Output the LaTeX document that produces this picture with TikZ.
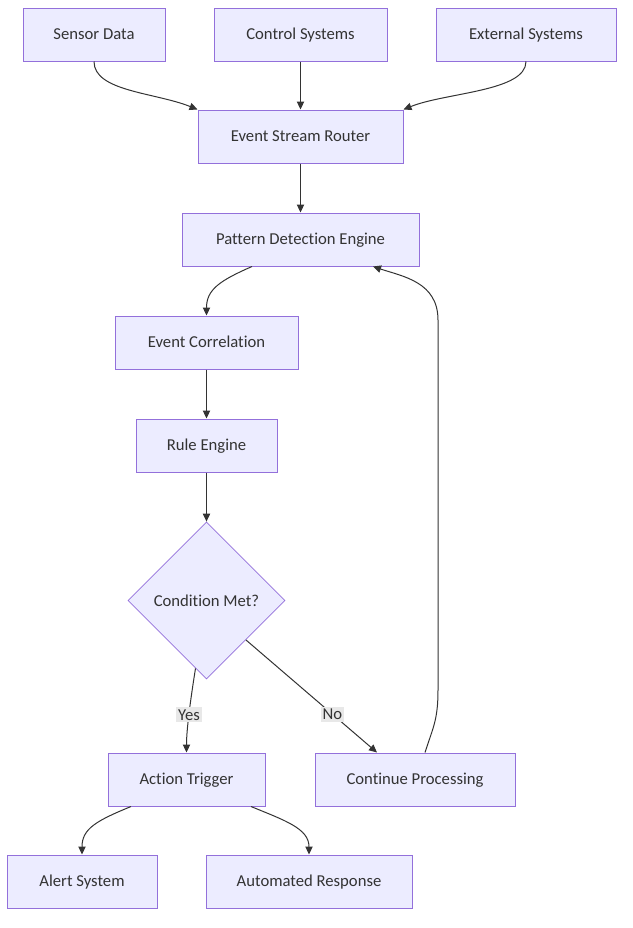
\documentclass[tikz,border=0pt]{standalone}
\usepackage{fontspec}
\setmainfont[Ligatures={NoCommon}]{Carlito}
\usepackage{xcolor}
\usetikzlibrary{arrows.meta,calc,shapes.geometric}
\definecolor{NodeFill}{HTML}{ECECFF}
\definecolor{NodeLine}{HTML}{9370DB}
\definecolor{InkGray}{HTML}{333333}
\definecolor{TagGray}{HTML}{E8E8E8}

\begin{document}
\begin{tikzpicture}[
      x=0.75pt,y=-0.75pt,
      font=\fontsize{12.5}{14}\selectfont,
      text=InkGray,
      proc/.style={draw=NodeLine,fill=NodeFill,line width=0.75pt,minimum height=39.75pt,inner sep=0pt,text depth=1pt,align=center},
      decide/.style={diamond,draw=NodeLine,fill=NodeFill,line width=0.6pt,minimum width=117.75pt,minimum height=117.75pt,inner sep=0pt,align=center},
      lbl/.style={fill=TagGray,inner sep=1.5pt,text=InkGray},
      flow/.style={draw=InkGray,line width=0.75pt,-{Triangle[length=6pt,width=5.5pt]}}
    ]
      \useasboundingbox (0,0) rectangle (632,928);
      % sources
      \node[proc,minimum width=106.5pt] (sd) at (94,34.5) {Sensor Data};
      \node[proc,minimum width=129.75pt] (cs) at (300.5,34.5) {Control Systems};
      \node[proc,minimum width=135pt] (xs) at (526,34.5) {External Systems};
      % main pipeline
      \node[proc,minimum width=153.75pt] (esr) at (300.5,136.5) {Event Stream Router};
      \node[proc,minimum width=177.75pt] (pde) at (300.5,239.5) {Pattern Detection Engine};
      \node[proc,minimum width=137.25pt] (ec) at (206.5,342.5) {Event Correlation};
      \node[proc,minimum width=105.75pt] (re) at (206.5,445.5) {Rule Engine};
      \node[decide] (cm) at (206.5,600.5) {Condition Met?};
      \node[proc,minimum width=117.75pt] (at) at (186.5,779.5) {Action Trigger};
      \node[proc,minimum width=150pt] (cp) at (415,779.5) {Continue Processing};
      % outputs
      \node[proc,minimum width=112.5pt] (as) at (82,881.5) {Alert System};
      \node[proc,minimum width=154.5pt] (ar) at (309,881.5) {Automated Response};

      \draw[flow] (sd.south) .. controls +(0,30) and +(-42,-17) .. (esr.north west);
      \draw[flow] (cs) -- (esr);
      \draw[flow] (xs.south) .. controls +(0,30) and +(42,-17) .. (esr.north east);
      \draw[flow] (esr) -- (pde);
      \draw[flow] ($(pde.south)+(-48.5,0)$) .. controls +(-32,14) and +(0,-26) .. (ec.north);
      \draw[flow] (ec) -- (re);
      \draw[flow] (re) -- (cm);
      \draw[flow] ($(cm.south)+(-11,-11)$) .. controls +(-4,25) and +(0,-25) .. node[lbl,pos=0.55] {Yes} (at.north);
      \draw[flow] ($(cm.east)!0.5!(cm.south)$) -- node[lbl,pos=0.66] {No} ($(cp.north)+(-38,0)$);
      \draw[flow] ($(cp.north)+(10,0)$) .. controls +(8,-25) and +(0,30) .. (438,690)
        -- (438,320) .. controls +(0,-38) and +(30,10) .. ($(pde.south)+(72.5,0)$);
      \draw[flow] ($(at.south)+(-55.5,0)$) .. controls +(-34,14) and +(0,-26) .. (as.north);
      \draw[flow] ($(at.south)+(64.5,0)$) .. controls +(34,14) and +(0,-26) .. (ar.north);
    \end{tikzpicture}
\end{document}
